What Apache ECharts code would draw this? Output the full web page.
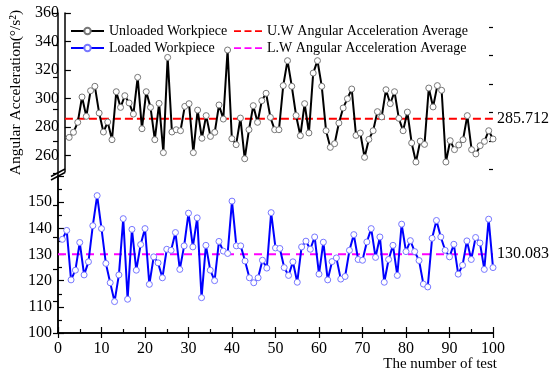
<!DOCTYPE html>
<html>
<head>
<meta charset="utf-8">
<script src="https://cdn.jsdelivr.net/npm/echarts@6/dist/echarts.min.js"></script>
<style>
html,body{margin:0;padding:0;background:#fff;}
#chart{width:550px;height:375px;}
</style>
</head>
<body>
<div id="chart"></div>
<script>
var unloaded = [272.6,276.2,283.2,301,287.4,305.4,308.5,289.7,276.4,283.4,
271,304.7,293.7,301.9,296.8,289,314.8,278.7,304.7,293.7,
271,296.5,261.9,328.8,276.4,278,277.3,294.4,296.3,261.9,
291.8,272,287.9,273.3,276.2,295.4,285.5,334,271.7,267.5,
286.2,257.6,278,294.9,283.2,298.4,303.6,286.7,278,278,
309,326.5,308.5,288,273.8,296.3,275.7,317.8,326.5,308.5,
277.3,265.6,268.2,282.7,293.3,299.8,306.6,274,275.7,258.6,
271.2,277.3,290.7,287,306.1,296.3,304.7,286,277.3,290.4,
268.7,255.3,270,267.7,307.3,294,309,305.7,255.3,270.3,
264,267.3,271,287.9,264,261,266.8,269.8,277.3,271.5];
var loaded = [135.8,139.2,120.3,124,134.6,122.2,127.2,141,152.5,139.9,
126.6,119.2,112,122.2,143.7,112.9,139.6,124,133.8,139.9,
118.6,129.1,126.8,121.1,132,131.6,138.4,124.3,133.3,145.8,
132.9,144,113.5,133.5,124,120,135,131.3,130.4,150.4,
133.3,133.3,127.5,121.1,119.2,121.1,127.8,124.8,146,132.5,
132.3,125,122,127.2,119.4,132.9,135.1,132,136.7,122.5,
134.7,120.3,127.3,128.7,120.6,121.6,131.6,137.6,128.1,127.8,
134.8,139.9,128.9,136.7,119.4,128.1,133.5,122,141.6,131.1,
135.3,131.1,127.7,118.7,117.6,136.2,143,136.7,131.6,129.1,
133.9,122.5,125.9,135.2,128.1,136.5,134.4,124.3,143.5,125];
var avgUnloaded = 285.712;
var avgLoaded = 130.083;
var topTicks = [260,280,300,320,340,360];
var topMinorTicks = [250,270,290,310,330,350];
var seriesNames = ['Unloaded Workpiece','Loaded Workpiece','U.W Angular Acceleration Average','L.W Angular Acceleration Average'];

function pairs(arr){ return arr.map(function(v,i){ return [i+1, v]; }); }

var FONT = 'Liberation Serif';
var DASH_ICON = 'path://M0,0h8v2h-8z M12,0h8v2h-8z M24,0h8v2h-8z';
var chart = echarts.init(document.getElementById('chart'));
var axisLine = {show:true, lineStyle:{color:'#000', width:1.5}};
var option = {
  animation:false,
  backgroundColor:'#fff',
  textStyle:{fontFamily:FONT},
  title:{text:'The number of test', right:48, top:352,
    textStyle:{fontFamily:FONT, fontSize:15, fontWeight:'normal', color:'#000'}},
  legend:[
    {left:65, top:19, orient:'vertical', itemGap:3, itemWidth:33, itemHeight:8,
     data:[seriesNames[0], seriesNames[1]],
     textStyle:{fontFamily:FONT, fontSize:14, color:'#000'}},
    {left:229, top:19, orient:'vertical', itemGap:3, itemWidth:28, itemHeight:2,
     data:[{name:seriesNames[2], icon:DASH_ICON}, {name:seriesNames[3], icon:DASH_ICON}],
     textStyle:{fontFamily:FONT, fontSize:14, color:'#000'}}
  ],
  grid:[
    {left:58, right:57, top:13, height:159},
    {left:58, right:57, top:176, bottom:42},
    {left:58, right:57, top:13, bottom:42}
  ],
  xAxis:[
    {gridIndex:0, type:'value', min:0, max:100, show:false},
    {gridIndex:1, type:'value', min:0, max:100, interval:10, axisLine:axisLine,
     axisTick:{inside:true, length:6, lineStyle:{color:'#000', width:1.2}},
     minorTick:{show:true, splitNumber:2, length:4, lineStyle:{color:'#000', width:1.2}},
     splitLine:{show:false},
     axisLabel:{color:'#000', fontSize:16, fontFamily:FONT, margin:8}},
    {gridIndex:2, type:'value', min:0, max:100, interval:10, position:'top', axisLine:axisLine,
     axisTick:{inside:true, length:5, lineStyle:{color:'#000', width:1.2}},
     splitLine:{show:false}, axisLabel:{show:false}}
  ],
  yAxis:[
    {gridIndex:0, type:'value', min:248.3, max:360, axisLine:axisLine,
     name:'Angular Acceleration(°/s²)', nameLocation:'middle', nameGap:36,
     nameTextStyle:{color:'#000', fontSize:15.5, fontFamily:FONT},
     axisTick:{inside:true, length:6, customValues:topTicks, lineStyle:{color:'#000', width:1.2}},
     axisLabel:{color:'#000', fontSize:16, fontFamily:FONT, customValues:topTicks, margin:6},
     splitLine:{show:false}},
    {gridIndex:0, type:'value', min:248.3, max:360, axisLine:{show:false},
     axisTick:{inside:true, length:4, customValues:topMinorTicks, lineStyle:{color:'#000', width:1.2}},
     axisLabel:{show:false}, splitLine:{show:false}},
    {gridIndex:1, type:'value', min:100, max:160, interval:10, axisLine:axisLine,
     axisTick:{inside:true, length:6, lineStyle:{color:'#000', width:1.2}},
     minorTick:{show:true, splitNumber:2, length:4, lineStyle:{color:'#000', width:1.2}},
     axisLabel:{color:'#000', fontSize:16, fontFamily:FONT, showMaxLabel:false, margin:6},
     splitLine:{show:false}},
    {gridIndex:2, type:'value', min:0, max:10, interval:1, position:'right', axisLine:axisLine,
     axisTick:{inside:true, length:5, lineStyle:{color:'#000', width:1.2}},
     axisLabel:{show:false}, splitLine:{show:false}}
  ],
  series:[
    {name:seriesNames[2], type:'line', xAxisIndex:0, yAxisIndex:0, z:3,
     data:[[0,avgUnloaded],[100,avgUnloaded]], symbol:'none',
     lineStyle:{color:'#ff0000', width:2, type:[8,4]}, itemStyle:{color:'#ff0000'},
     endLabel:{show:true, formatter:String(avgUnloaded), color:'#000', fontSize:16, fontFamily:FONT, distance:4}},
    {name:seriesNames[3], type:'line', xAxisIndex:1, yAxisIndex:2, z:3,
     data:[[0,avgLoaded],[100,avgLoaded]], symbol:'none',
     lineStyle:{color:'#ff00ff', width:2, type:[8,6]}, itemStyle:{color:'#ff00ff'},
     endLabel:{show:true, formatter:String(avgLoaded), color:'#000', fontSize:16, fontFamily:FONT, distance:4}},
    {name:seriesNames[0], type:'line', xAxisIndex:0, yAxisIndex:0, z:4,
     data:pairs(unloaded), symbol:'circle', symbolSize:6, showSymbol:true,
     lineStyle:{color:'#000', width:2},
     itemStyle:{color:'#fff', borderColor:'#777', borderWidth:1}},
    {name:seriesNames[1], type:'line', xAxisIndex:1, yAxisIndex:2, z:4,
     data:pairs(loaded), symbol:'circle', symbolSize:6, showSymbol:true,
     lineStyle:{color:'#0000ff', width:2},
     itemStyle:{color:'#fff', borderColor:'#7777ff', borderWidth:1}}
  ],
  graphic:[
    {type:'line', shape:{x1:51, y1:176.5, x2:65, y2:169}, style:{stroke:'#000', lineWidth:1.5}},
    {type:'line', shape:{x1:51, y1:180, x2:65, y2:172.5}, style:{stroke:'#000', lineWidth:1.5}}
  ]
};
chart.setOption(option);
</script>
</body>
</html>
